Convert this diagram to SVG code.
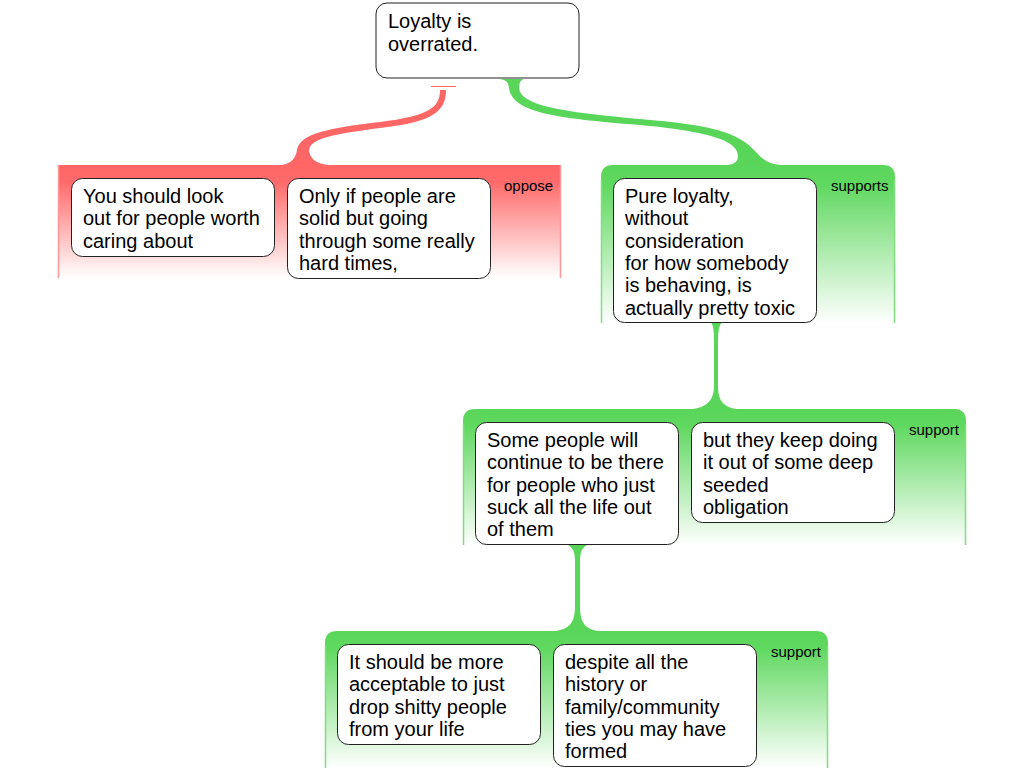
<svg xmlns="http://www.w3.org/2000/svg" width="1024" height="768" viewBox="0 0 1024 768">
<defs>
<linearGradient id="gG" x1="0" y1="0" x2="0" y2="1">
<stop offset="0" stop-color="#59d659"/>
<stop offset="0.12" stop-color="#5fd85f"/>
<stop offset="1" stop-color="#ffffff"/>
</linearGradient>
<linearGradient id="gR" x1="0" y1="0" x2="0" y2="1">
<stop offset="0" stop-color="#ff6666"/>
<stop offset="0.15" stop-color="#ff6a6a"/>
<stop offset="1" stop-color="#ffffff"/>
</linearGradient>
<style>
.node rect{fill:#fff;stroke:#222;stroke-width:1}
.node text{font-family:"Liberation Sans",Arial,sans-serif;font-size:20px;fill:#000}
.lbl{font-family:"Liberation Sans",Arial,sans-serif;font-size:15px;fill:#000}
.gbox{fill:url(#gG)}
.rbox{fill:url(#gR)}
.gside{stroke:#7fdf7f;stroke-width:1.5;fill:none}
.rside{stroke:#f99;stroke-width:1.5;fill:none}
.gc{fill:#59d659}
.rc{fill:#ff6666}
</style>
</defs>
<rect width="1024" height="768" fill="#fff"/>

<g id="groups">
<g id="oppose-group">
<rect class="rbox" x="58" y="165" width="503" height="113"/>
<path class="rside" d="M58.5,165 V278 M560.5,165 V278"/>
<text class="lbl" x="504" y="191">oppose</text>
</g>
<g id="supports-group">
<path class="gbox" d="M601,323 V177 Q601,165 613,165 H883 Q895,165 895,177 V323 Z"/>
<path class="gside" d="M601.5,180 V323 M894.5,180 V323"/>
<text class="lbl" x="831" y="191">supports</text>
</g>
<g id="support-group-2">
<path class="gbox" d="M463,545 V421 Q463,409 475,409 H954 Q966,409 966,421 V545 Z"/>
<path class="gside" d="M463.5,424 V545 M965.5,424 V545"/>
<text class="lbl" x="909" y="435">support</text>
</g>
<g id="support-group-3">
<path class="gbox" d="M325,768 V643 Q325,631 337,631 H816 Q828,631 828,643 V768 Z"/>
<path class="gside" d="M325.5,646 V768 M827.5,646 V768"/>
<text class="lbl" x="771" y="657">support</text>
</g>
</g>

<g id="connectors">
<path class="gc" d="M500,79 Q509,80 509,88 C512,110 545,118 640,125 C715,132 738,142 738,156 Q738,164 728,165 L780,165 Q766,164 756,152 C738,132 712,125 640,119 C560,112 520,105 519,88 Q519,80 524,79 Z"/>
<line x1="431" y1="86.5" x2="456" y2="86.5" stroke="#ff6666" stroke-width="1"/>
<path class="rc" d="M440,90 C440,108 428,116 380,122 C330,128 300,133 297,150 Q295,163 282,165 L328,165 Q310,163 309,150 C311,138 335,134 380,128 C432,122 446,112 446,90 Z"/>
<path class="gc" d="M711,322 Q714,326 714,340 L714,385 C714,400 708,408 688,409.5 L741,409.5 C722,408 718,400 718,385 L718,340 Q718,326 722,322 Z"/>
<path class="gc" d="M566,544 Q575,547 575,560 L575,605 C575,622 571,629 553,631.5 L600,631.5 C584,629 580,622 580,605 L580,560 Q580,547 589,544 Z"/>
</g>

<g id="n-main" class="node">
<rect x="376" y="3" width="203" height="75" rx="11"/>
<text x="388" y="28">Loyalty is</text>
<text x="388" y="50.5">overrated.</text>
</g>

<g id="n-look-out" class="node">
<rect x="71.5" y="178.5" width="203" height="78" rx="11"/>
<text x="83" y="203">You should look</text>
<text x="83" y="225.3">out for people worth</text>
<text x="83" y="247.6">caring about</text>
</g>

<g id="n-only-if" class="node">
<rect x="287.5" y="178.5" width="203" height="100" rx="11"/>
<text x="299" y="203">Only if people are</text>
<text x="299" y="225.3">solid but going</text>
<text x="299" y="247.6">through some really</text>
<text x="299" y="269.9">hard times,</text>
</g>

<g id="n-pure" class="node">
<rect x="613.5" y="178.5" width="203" height="144" rx="11"/>
<text x="625" y="203">Pure loyalty,</text>
<text x="625" y="225.3">without</text>
<text x="625" y="247.6">consideration</text>
<text x="625" y="269.9">for how somebody</text>
<text x="625" y="292.2">is behaving, is</text>
<text x="625" y="314.5">actually pretty toxic</text>
</g>

<g id="n-some" class="node">
<rect x="475.5" y="422.5" width="203" height="122" rx="11"/>
<text x="487" y="447">Some people will</text>
<text x="487" y="469.3">continue to be there</text>
<text x="487" y="491.6">for people who just</text>
<text x="487" y="513.9">suck all the life out</text>
<text x="487" y="536.2">of them</text>
</g>

<g id="n-but" class="node">
<rect x="691.5" y="422.5" width="203" height="100" rx="11"/>
<text x="703" y="447">but they keep doing</text>
<text x="703" y="469.3">it out of some deep</text>
<text x="703" y="491.6">seeded</text>
<text x="703" y="513.9">obligation</text>
</g>

<g id="n-drop" class="node">
<rect x="337.5" y="644.5" width="203" height="100" rx="11"/>
<text x="349" y="669">It should be more</text>
<text x="349" y="691.3">acceptable to just</text>
<text x="349" y="713.6">drop shitty people</text>
<text x="349" y="735.9">from your life</text>
</g>

<g id="n-despite" class="node">
<rect x="553.5" y="644.5" width="203" height="122" rx="11"/>
<text x="565" y="669">despite all the</text>
<text x="565" y="691.3">history or</text>
<text x="565" y="713.6">family/community</text>
<text x="565" y="735.9">ties you may have</text>
<text x="565" y="758.2">formed</text>
</g>
</svg>
